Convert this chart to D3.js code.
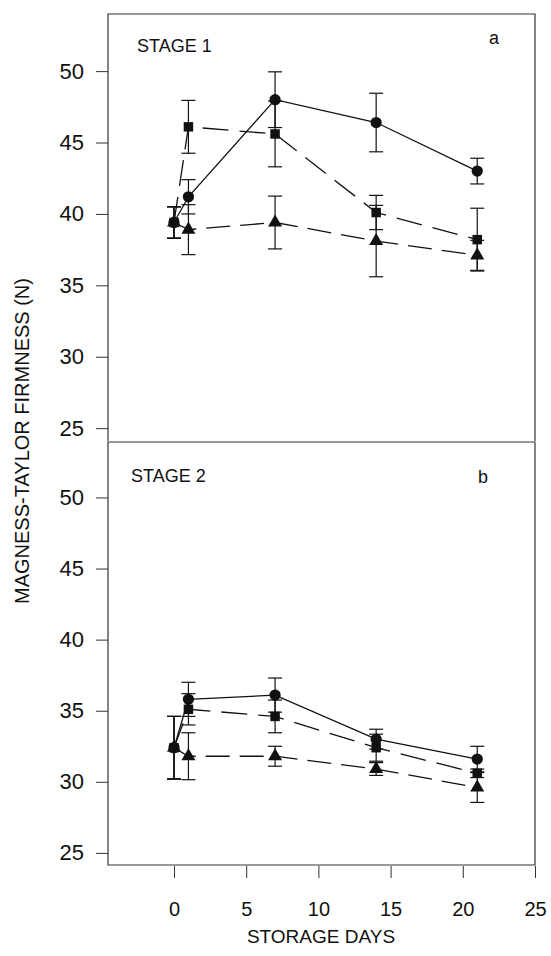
<!DOCTYPE html>
<html>
<head>
<meta charset="utf-8">
<script src="https://cdn.jsdelivr.net/npm/d3@7"></script>
<style>
  body { margin: 0; background: #fff; }
  text { font-family: "Liberation Sans", Arial, sans-serif; fill: #111; }
</style>
</head>
<body>
<div id="firmness"></div>
<script>
// storage days (x) shared by every series
var days = [0, 1, 7, 14, 21];

// Stage 1 means and error bars
var s1Circle = [39.4, 41.2, 48.0, 46.4, 43.0];
var s1CircleErr = [1.1, 1.2, 1.95, 2.05, 0.9];
var s1Square = [39.4, 46.1, 45.6, 40.1, 38.2];
var s1SquareErr = [1.1, 1.85, 2.3, 1.2, 2.2];
var s1Triangle = [39.4, 38.9, 39.4, 38.1, 37.1];
var s1TriangleErr = [1.1, 1.75, 1.85, 2.5, 1.05];

// Stage 2 means and error bars
var s2Circle = [32.4, 35.8, 36.1, 33.0, 31.6];
var s2CircleErr = [2.2, 1.2, 1.2, 0.7, 0.9];
var s2Square = [32.4, 35.1, 34.6, 32.4, 30.6];
var s2SquareErr = [2.2, 1.1, 1.15, 0.95, 0.3];
var s2Triangle = [32.4, 31.8, 31.8, 30.9, 29.6];
var s2TriangleErr = [2.2, 1.65, 0.7, 0.45, 1.05];

var yTicks = [25, 30, 35, 40, 45, 50];
var xTicks = [0, 5, 10, 15, 20, 25];

var width = 551, height = 956;

var svg = d3.select("#firmness")
  .append("svg")
  .attr("width", width)
  .attr("height", height);

// x scale is the same for both panels
var x = d3.scaleLinear().domain([-4.57, 25]).range([108, 535]);

var panels = [
  { name: "STAGE 1", letter: "a", top: 14, bottom: 441, domain: [24.1, 54],
    series: [
      { vals: s1Circle, err: s1CircleErr, shape: "circle", dash: null },
      { vals: s1Square, err: s1SquareErr, shape: "square", dash: "26,11" },
      { vals: s1Triangle, err: s1TriangleErr, shape: "triangle", dash: "24,10" }
    ] },
  { name: "STAGE 2", letter: "b", top: 442, bottom: 865, domain: [24.15, 53.9],
    series: [
      { vals: s2Circle, err: s2CircleErr, shape: "circle", dash: null },
      { vals: s2Square, err: s2SquareErr, shape: "square", dash: "26,11" },
      { vals: s2Triangle, err: s2TriangleErr, shape: "triangle", dash: "24,10" }
    ] }
];

panels.forEach(function(p, pi) {
  var y = d3.scaleLinear().domain(p.domain).range([p.bottom, p.top]);
  var g = svg.append("g");

  // frame: top panel has no bottom edge, the lower panel's top edge serves
  var frame = pi == 0
    ? `M${x.range()[0]},${p.bottom}V${p.top}H${x.range()[1]}V${p.bottom}`
    : `M${x.range()[0]},${p.top}V${p.bottom}H${x.range()[1]}V${p.top}Z`;
  g.append("path").attr("d", frame)
    .attr("fill", "none").attr("stroke", "#333").attr("stroke-width", 1.2);

  // left axis
  var ya = g.append("g")
    .attr("transform", `translate(${x.range()[0]},0)`)
    .call(d3.axisLeft(y).tickValues(yTicks).tickSize(12).tickPadding(12));
  ya.select(".domain").remove();
  ya.selectAll("line").attr("stroke", "#333");
  ya.selectAll("text").style("font-size", "22px").attr("fill", "#111");

  g.append("text").attr("x", pi == 0 ? 137 : 131).attr("y", pi == 0 ? 52 : 482)
    .style("font-size", "18px").text(p.name);
  g.append("text").attr("x", pi == 0 ? 489 : 478).attr("y", pi == 0 ? 44 : 483)
    .style("font-size", "18px").text(p.letter);

  p.series.forEach(function(s) {
    var pts = days.map(function(d, i) { return { d: d, v: s.vals[i], e: s.err[i] }; });

    // connecting line
    g.append("path").datum(pts)
      .attr("d", d3.line().x(function(d) { return x(d.d); }).y(function(d) { return y(d.v); }))
      .attr("fill", "none").attr("stroke", "#111").attr("stroke-width", 1.3)
      .attr("stroke-dasharray", s.dash);

    // error bars with caps
    var eb = g.append("g").selectAll("g").data(pts).join("g");
    eb.append("line")
      .attr("x1", function(d) { return x(d.d); }).attr("x2", function(d) { return x(d.d); })
      .attr("y1", function(d) { return y(d.v + d.e); }).attr("y2", function(d) { return y(d.v - d.e); })
      .attr("stroke", "#111").attr("stroke-width", 1.2);
    [1, -1].forEach(function(sign) {
      eb.append("line")
        .attr("x1", function(d) { return x(d.d) - 7; }).attr("x2", function(d) { return x(d.d) + 7; })
        .attr("y1", function(d) { return y(d.v + sign * d.e); })
        .attr("y2", function(d) { return y(d.v + sign * d.e); })
        .attr("stroke", "#111").attr("stroke-width", 1.2);
    });

    // markers
    var sym = s.shape == "circle" ? d3.symbolCircle : s.shape == "square" ? d3.symbolSquare : d3.symbolTriangle;
    var size = s.shape == "circle" ? 100 : s.shape == "square" ? 90 : 85;
    g.append("g").selectAll("path").data(pts).join("path")
      .attr("transform", function(d) { return `translate(${x(d.d)},${y(d.v)})`; })
      .attr("d", d3.symbol().type(sym).size(size))
      .attr("fill", "#111");
  });

  // bottom axis only under the lower panel
  if (pi == 1) {
    var xa = g.append("g")
      .attr("transform", `translate(0,${p.bottom + 1})`)
      .call(d3.axisBottom(x).tickValues(xTicks).tickSize(12).tickPadding(24));
    xa.select(".domain").remove();
    xa.selectAll("line").attr("stroke", "#333");
    xa.selectAll("text").style("font-size", "20px").attr("fill", "#111");
  }
});

// axis titles
svg.append("text")
  .attr("x", 321).attr("y", 943)
  .attr("text-anchor", "middle")
  .style("font-size", "19px")
  .text("STORAGE DAYS");

svg.append("text")
  .attr("transform", "translate(29,441) rotate(-90)")
  .attr("text-anchor", "middle")
  .style("font-size", "20px")
  .text("MAGNESS-TAYLOR FIRMNESS (N)");
</script>
</body>
</html>
